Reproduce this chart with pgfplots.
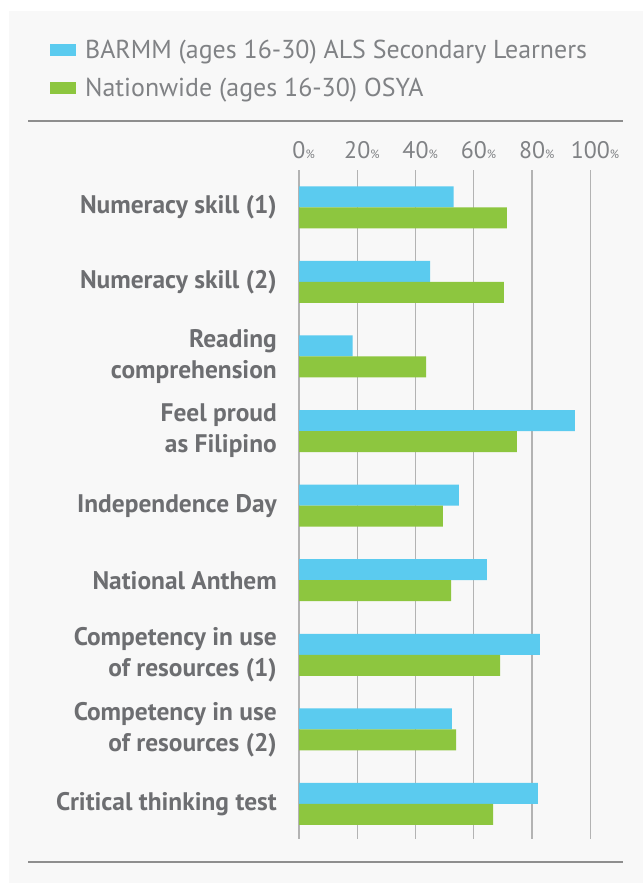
\documentclass[border=0pt]{standalone}
\usepackage{fontspec}
\setmainfont{PT Sans}
\usepackage{pgfplots}
\pgfplotsset{compat=1.18}
\definecolor{barmm}{HTML}{5BCBEF}
\definecolor{osya}{HTML}{8DC63F}
\definecolor{panel}{HTML}{F8F8F8}
\definecolor{gridc}{HTML}{B3B3B3}
\definecolor{rulec}{HTML}{8E8E8E}
\definecolor{labc}{HTML}{6D6E71}
\definecolor{tickc}{HTML}{808285}

\begin{document}
\begin{tikzpicture}
% page and panel, 1px = 1bp, y grows downward
\fill[white] (0,0) rectangle (643bp,-883bp);
\fill[panel] (9bp,-11bp) rectangle (643bp,-883bp);
\draw[rulec, line width=2.5bp] (28bp,-121bp) -- (623bp,-121bp);
\draw[rulec, line width=2.5bp] (28bp,-862bp) -- (623bp,-862bp);
\begin{axis}[
  at={(299bp,-839bp)}, anchor=south west,
  scale only axis, width=291.3bp, height=669bp,
  xmin=0, xmax=100, ymin=-0.5, ymax=8.47, y dir=reverse,
  xbar, bar width=21bp,
  axis line style={draw=none}, major tick length=0pt,
  /pgf/number format/assume math mode=true,
  xtick={0,20,...,100}, xticklabel pos=upper,
  xticklabel={\pgfmathprintnumber{\tick}\rlap{\fontsize{12}{12}\selectfont\%}},
  xticklabel style={font=\fontsize{24}{24}\selectfont, text=tickc, anchor=base, inner sep=0pt, yshift=12bp},
  xmajorgrids, grid style={gridc, line width=1.2bp},
  ytick={0,...,8},
  yticklabels={{Numeracy skill (1)},{Numeracy skill (2)},{Reading\\comprehension},{Feel proud\\as Filipino},{Independence Day},{National Anthem},{Competency in use\\of resources (1)},{Competency in use\\of resources (2)},{Critical thinking test}},
  yticklabel style={font=\bfseries\fontsize{25.5}{31}\selectfont, text=labc, align=right, anchor=east, inner sep=0pt, xshift=-22bp},
  legend style={at={(axis description cs:-0.855,1.195)}, anchor=north west, draw=none, fill=none,
    inner sep=0pt, row sep=18.5bp, column sep=9bp, font=\fontsize{26}{26}\selectfont, text=tickc,
    cells={anchor=west}, nodes={inner sep=0pt}},
]
\addplot[fill=barmm, draw=none, bar shift=10.5bp,
  legend image code/.code={\fill[barmm] (0bp,-6bp) rectangle (26bp,6bp);}]
  coordinates {(53.1,0) (45.0,1) (18.4,2) (94.7,3) (54.9,4) (64.5,5) (82.7,6) (52.5,7) (82.0,8)};
\addlegendentry{BARMM (ages 16-30) ALS Secondary Learners}
\addplot[fill=osya, draw=none, bar shift=-10.5bp,
  legend image code/.code={\fill[osya] (0bp,-6bp) rectangle (26bp,6bp);}]
  coordinates {(71.4,0) (70.3,1) (43.6,2) (74.8,3) (49.4,4) (52.2,5) (69.0,6) (53.9,7) (66.6,8)};
\addlegendentry{Nationwide (ages 16-30) OSYA}
\end{axis}
\end{tikzpicture}
\end{document}
